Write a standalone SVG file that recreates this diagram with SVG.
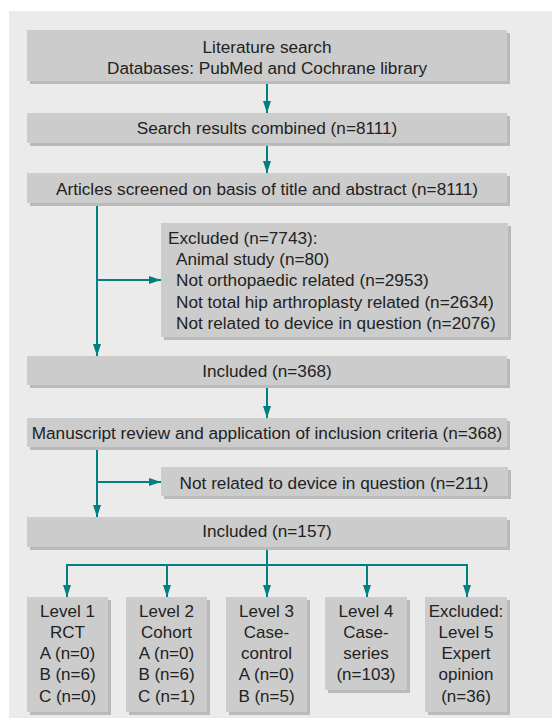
<svg xmlns="http://www.w3.org/2000/svg" width="552" height="720" viewBox="0 0 552 720">
<defs>
<style>
.bg{fill:#ebebeb}
.sh{fill:#bababa}
.bx{fill:#cccccc}
.t{font-family:"Liberation Sans",Arial,sans-serif;font-size:17.2px;fill:#222222}
.s{font-size:17px}
.c{text-anchor:middle}
.ln{stroke:#00807f;stroke-width:2;fill:none}
</style>
<marker id="ah" viewBox="0 0 12 8" refX="12" refY="4" markerWidth="12" markerHeight="8" markerUnits="userSpaceOnUse" orient="auto">
<path d="M0,0 L12,4 L0,8 Z" fill="#00807f"/>
</marker>
</defs>
<rect class="bg" x="9" y="11" width="543" height="707"/>
<g id="connectors">
<line class="ln" x1="267" y1="81" x2="267" y2="113" marker-end="url(#ah)"/>
<line class="ln" x1="267" y1="143" x2="267" y2="173" marker-end="url(#ah)"/>
<line class="ln" x1="97" y1="203" x2="97" y2="356" marker-end="url(#ah)"/>
<line class="ln" x1="97" y1="280" x2="161" y2="280" marker-end="url(#ah)"/>
<line class="ln" x1="267" y1="385" x2="267" y2="418" marker-end="url(#ah)"/>
<line class="ln" x1="97" y1="447" x2="97" y2="517" marker-end="url(#ah)"/>
<line class="ln" x1="97" y1="482" x2="161" y2="482" marker-end="url(#ah)"/>
<line class="ln" x1="267" y1="547" x2="267" y2="597" marker-end="url(#ah)"/>
<polyline class="ln" points="67,597 67,565 467,565 467,597"/>
<line class="ln" x1="67" y1="565" x2="67" y2="597" marker-end="url(#ah)"/>
<line class="ln" x1="167" y1="565" x2="167" y2="597" marker-end="url(#ah)"/>
<line class="ln" x1="367" y1="565" x2="367" y2="597" marker-end="url(#ah)"/>
<line class="ln" x1="467" y1="565" x2="467" y2="597" marker-end="url(#ah)"/>
</g>
<g id="n1">
<rect class="sh" x="30" y="33" width="480" height="51"/>
<rect class="bx" x="27" y="30" width="480" height="51"/>
<text class="t c" x="267" y="53">Literature search</text>
<text class="t c" x="267" y="74">Databases: PubMed and Cochrane library</text>
</g>
<g id="n2">
<rect class="sh" x="30" y="116" width="480" height="30"/>
<rect class="bx" x="27" y="113" width="480" height="30"/>
<text class="t c" x="267" y="133.5">Search results combined (n=8111)</text>
</g>
<g id="n3">
<rect class="sh" x="30" y="176" width="480" height="30"/>
<rect class="bx" x="27" y="173" width="480" height="30"/>
<text class="t c" x="267" y="195">Articles screened on basis of title and abstract (n=8111)</text>
</g>
<g id="n4">
<rect class="sh" x="164" y="226" width="347" height="114"/>
<rect class="bx" x="161" y="223" width="347" height="114"/>
<text class="t" x="168" y="243.5">Excluded (n=7743):</text>
<text class="t" x="176" y="265">Animal study (n=80)</text>
<text class="t" x="176" y="286.3">Not orthopaedic related (n=2953)</text>
<text class="t" x="176" y="307.6">Not total hip arthroplasty related (n=2634)</text>
<text class="t" x="176" y="328.9">Not related to device in question (n=2076)</text>
</g>
<g id="n5">
<rect class="sh" x="30" y="359" width="480" height="29"/>
<rect class="bx" x="27" y="356" width="480" height="29"/>
<text class="t c" x="267" y="377">Included (n=368)</text>
</g>
<g id="n6">
<rect class="sh" x="30" y="421" width="480" height="29"/>
<rect class="bx" x="27" y="418" width="480" height="29"/>
<text class="t c" x="267" y="438.5">Manuscript review and application of inclusion criteria (n=368)</text>
</g>
<g id="n7">
<rect class="sh" x="164" y="470" width="347" height="29"/>
<rect class="bx" x="161" y="467" width="347" height="29"/>
<text class="t c" x="334" y="488.5">Not related to device in question (n=211)</text>
</g>
<g id="n8">
<rect class="sh" x="30" y="520" width="480" height="30"/>
<rect class="bx" x="27" y="517" width="480" height="30"/>
<text class="t c" x="267" y="537">Included (n=157)</text>
</g>
<g id="l1">
<rect class="sh" x="30" y="600" width="81" height="115"/>
<rect class="bx" x="27" y="597" width="81" height="115"/>
<text class="t s c" x="67.5" y="616.7">Level 1</text>
<text class="t s c" x="67.5" y="637.9">RCT</text>
<text class="t s c" x="67.5" y="659.1">A (n=0)</text>
<text class="t s c" x="67.5" y="680.3">B (n=6)</text>
<text class="t s c" x="67.5" y="701.5">C (n=0)</text>
</g>
<g id="l2">
<rect class="sh" x="129" y="600" width="81" height="115"/>
<rect class="bx" x="126" y="597" width="81" height="115"/>
<text class="t s c" x="166.5" y="616.7">Level 2</text>
<text class="t s c" x="166.5" y="637.9">Cohort</text>
<text class="t s c" x="166.5" y="659.1">A (n=0)</text>
<text class="t s c" x="166.5" y="680.3">B (n=6)</text>
<text class="t s c" x="166.5" y="701.5">C (n=1)</text>
</g>
<g id="l3">
<rect class="sh" x="229" y="600" width="81" height="115"/>
<rect class="bx" x="226" y="597" width="81" height="115"/>
<text class="t s c" x="266.5" y="616.7">Level 3</text>
<text class="t s c" x="266.5" y="637.9">Case-</text>
<text class="t s c" x="266.5" y="659.1">control</text>
<text class="t s c" x="266.5" y="680.3">A (n=0)</text>
<text class="t s c" x="266.5" y="701.5">B (n=5)</text>
</g>
<g id="l4">
<rect class="sh" x="328" y="600" width="82" height="93"/>
<rect class="bx" x="325" y="597" width="82" height="93"/>
<text class="t s c" x="366" y="616.7">Level 4</text>
<text class="t s c" x="366" y="637.9">Case-</text>
<text class="t s c" x="366" y="659.1">series</text>
<text class="t s c" x="366" y="680.3">(n=103)</text>
</g>
<g id="l5">
<rect class="sh" x="428" y="600" width="82" height="115"/>
<rect class="bx" x="425" y="597" width="82" height="115"/>
<text class="t s c" x="466" y="616.7">Excluded:</text>
<text class="t s c" x="466" y="637.9">Level 5</text>
<text class="t s c" x="466" y="659.1">Expert</text>
<text class="t s c" x="466" y="680.3">opinion</text>
<text class="t s c" x="466" y="701.5">(n=36)</text>
</g>
</svg>
